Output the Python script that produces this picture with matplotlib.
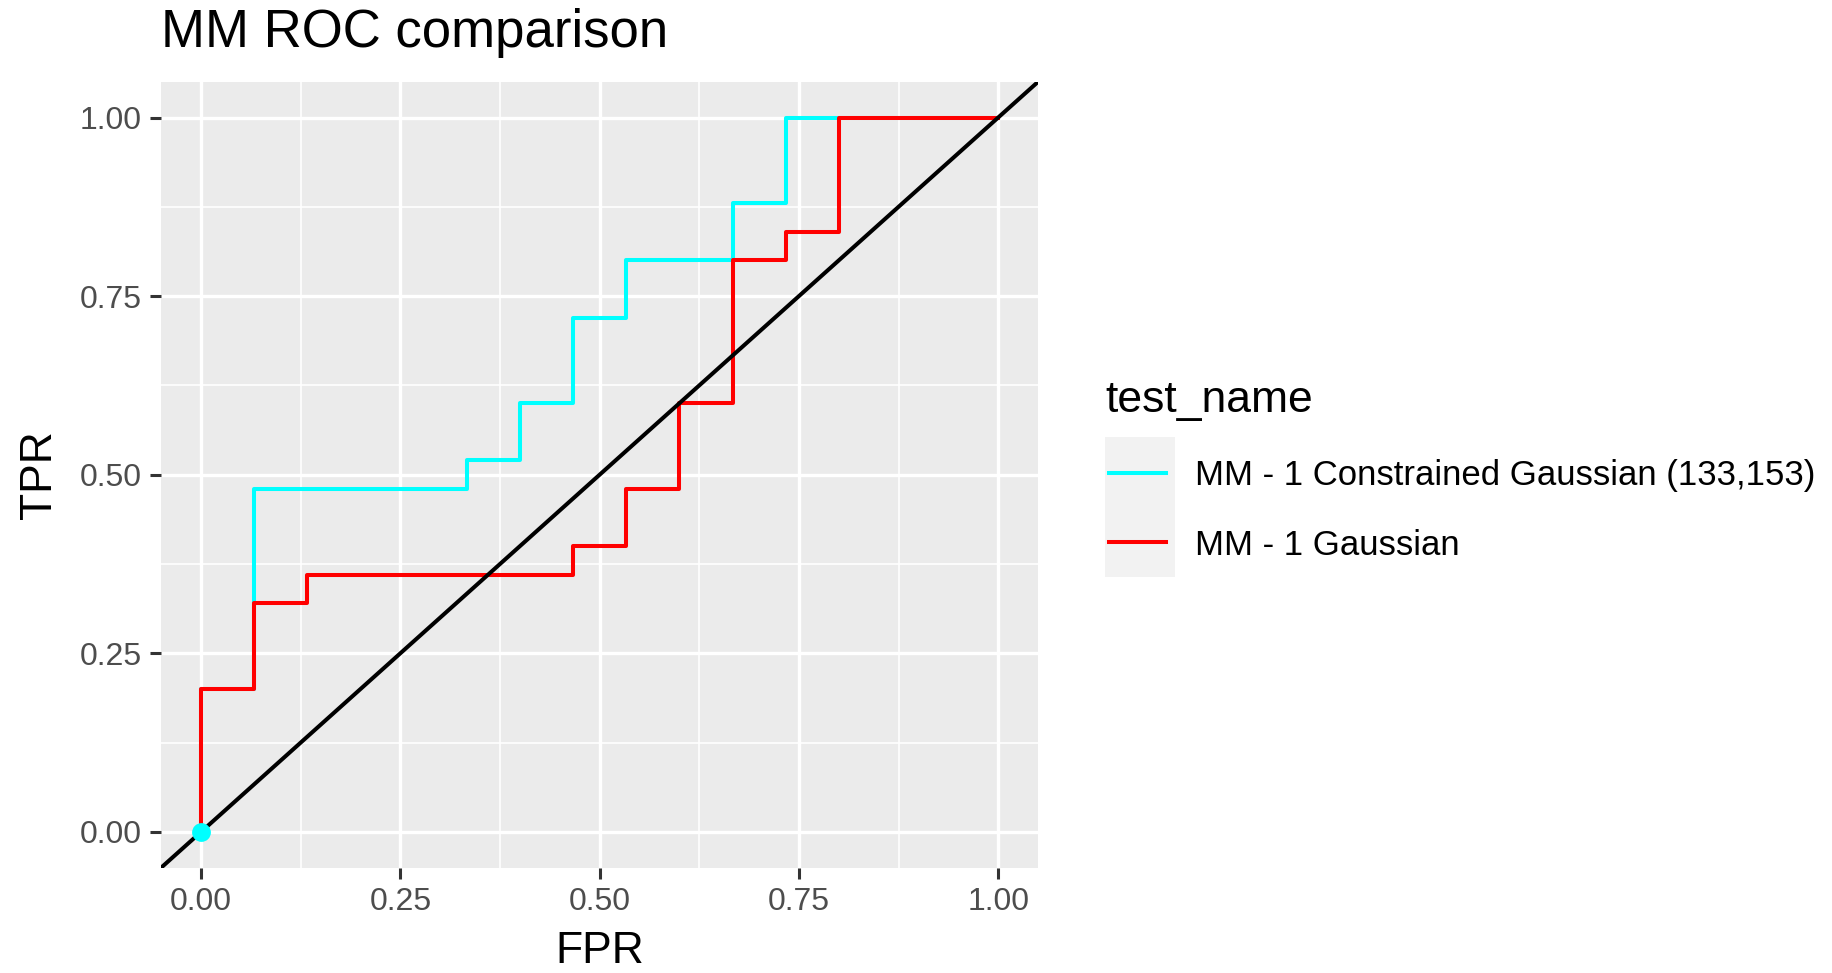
import matplotlib.pyplot as plt
from matplotlib.patches import Rectangle

# ROC steps (FPR moves in 1/15, TPR in 1/25)
fpr_constrained = [0, 0, 1/15, 5/15, 6/15, 7/15, 8/15, 10/15, 11/15, 1]
tpr_constrained = [0, 0.20, 0.48, 0.52, 0.60, 0.72, 0.80, 0.88, 1.00, 1.00]
fpr_gaussian = [0, 0, 1/15, 2/15, 7/15, 8/15, 9/15, 10/15, 11/15, 12/15, 1]
tpr_gaussian = [0, 0.20, 0.32, 0.36, 0.40, 0.48, 0.60, 0.80, 0.84, 1.00, 1.00]
start_point = (0, 0)

labels = ["MM - 1 Constrained Gaussian (133,153)", "MM - 1 Gaussian"]
colors = ["#00FFFF", "#FF0000"]
ticks = [0, 0.25, 0.5, 0.75, 1.0]
minor_ticks = [0.125, 0.375, 0.625, 0.875]
tick_labels = ["0.00", "0.25", "0.50", "0.75", "1.00"]

plt.rcParams['font.family'] = ['Liberation Sans', 'DejaVu Sans']

fig = plt.figure(figsize=(18.33, 9.73), dpi=100)
ax = fig.add_axes([0.088, 0.1084, 0.4783, 0.8075])
ax.set_facecolor('#EBEBEB')
for s in ax.spines.values():
    s.set_visible(False)

ax.set_xlim(-0.05, 1.05)
ax.set_ylim(-0.05, 1.05)
ax.set_xticks(ticks)
ax.set_yticks(ticks)
ax.set_xticks(minor_ticks, minor=True)
ax.set_yticks(minor_ticks, minor=True)
ax.set_xticklabels(tick_labels)
ax.set_yticklabels(tick_labels)
ax.grid(which='major', color='white', lw=2.4)
ax.grid(which='minor', color='white', lw=1.2)
ax.set_axisbelow(True)
ax.tick_params(which='major', length=8, width=2.2, color='#333333',
               labelsize=23, labelcolor='#4D4D4D', pad=6)
ax.tick_params(which='minor', length=0)

l1, = ax.plot(fpr_constrained, tpr_constrained, drawstyle='steps-post',
              color=colors[0], lw=2.9, label=labels[0])
l2, = ax.plot(fpr_gaussian, tpr_gaussian, drawstyle='steps-post',
              color=colors[1], lw=2.9, label=labels[1])
ax.axline((0, 0), slope=1, color='black', lw=2.9)
ax.plot(*start_point, 'o', color=colors[0], ms=12.5, zorder=5, clip_on=False)

ax.set_xlabel("FPR", fontsize=32, labelpad=10)
ax.set_ylabel("TPR", fontsize=32, labelpad=14)
fig.text(0.088, 0.952, "MM ROC comparison", fontsize=38, ha='left', va='baseline')

# legend: title, grey key background, entries
fig.text(0.6028, 0.577, "test_name", fontsize=32, ha='left', va='baseline')
fig.patches.append(Rectangle((0.6028, 0.407), 0.0382, 0.144, transform=fig.transFigure,
                             facecolor='#F2F2F2', edgecolor='none', zorder=-1))
leg = ax.legend(handles=[l1, l2], loc='center left',
                bbox_to_anchor=(0.6048, 0.4755), bbox_transform=fig.transFigure,
                frameon=False, fontsize=25,
                handlelength=1.64, handletextpad=0.85, labelspacing=1.05,
                borderpad=0.0, borderaxespad=0)

fig.savefig('out.png', dpi=100)
